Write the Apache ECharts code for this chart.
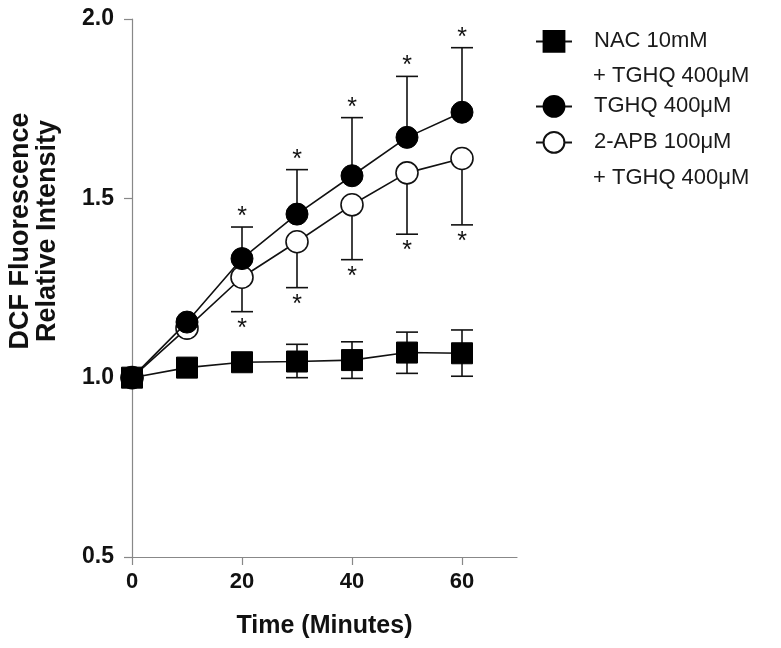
<!DOCTYPE html>
<html>
<head>
<meta charset="utf-8">
<script src="https://cdn.jsdelivr.net/npm/echarts@6/dist/echarts.min.js"></script>
<style>
html,body{margin:0;padding:0;background:#fff;}
#chart{width:781px;height:648px;}
</style>
</head>
<body>
<div id="chart"></div>
<script>
// ---- data ----
var times = [0, 10, 20, 30, 40, 50, 60];
var xTicks = [0, 20, 40, 60];
var yTicks = [0.5, 1.0, 1.5, 2.0];

var nacName = 'NAC 10mM + TGHQ 400μM';
var tghqName = 'TGHQ 400μM';
var apbName = '2-APB 100μM + TGHQ 400μM';

var nacMean = [1.0, 1.028, 1.043, 1.045, 1.049, 1.070, 1.068];
var nacLow  = [null, null, null, 1.000, 0.998, 1.012, 1.004];
var nacHigh = [null, null, null, 1.093, 1.100, 1.127, 1.133];

var tghqMean = [1.0, 1.155, 1.332, 1.456, 1.563, 1.670, 1.740];
var tghqHigh = [null, null, 1.420, 1.580, 1.725, 1.840, 1.920];

var apbMean = [1.0, 1.138, 1.280, 1.379, 1.482, 1.571, 1.611];
var apbLow  = [null, null, 1.184, 1.251, 1.329, 1.400, 1.426];

var FONT = '"Liberation Sans", Arial, Helvetica, sans-serif';

function pairs(xs, ys) {
  return xs.map(function (x, i) { return [x, ys[i]]; });
}
// error bar rows: [x, low, high, capLow, capHigh, starLow, starHigh]
function errRows(xs, mean, low, high, starLow, starHigh) {
  var rows = [];
  xs.forEach(function (x, i) {
    var lo = low ? low[i] : null;
    var hi = high ? high[i] : null;
    if (lo == null && hi == null) return;
    rows.push([x, lo == null ? mean[i] : lo, hi == null ? mean[i] : hi,
      lo == null ? 0 : 1, hi == null ? 0 : 1, starLow ? 1 : 0, starHigh ? 1 : 0]);
  });
  return rows;
}

var errData = []
  .concat(errRows(times, nacMean, nacLow, nacHigh, false, false))
  .concat(errRows(times, tghqMean, null, tghqHigh, false, true))
  .concat(errRows(times, apbMean, apbLow, null, true, false));

function renderErr(params, api) {
  var x = api.value(0);
  var pLo = api.coord([x, api.value(1)]);
  var pHi = api.coord([x, api.value(2)]);
  var half = 11;
  var st = { stroke: '#111', lineWidth: 1.6 };
  var children = [{
    type: 'line', shape: { x1: pLo[0], y1: pLo[1], x2: pHi[0], y2: pHi[1] }, style: st
  }];
  if (api.value(3)) children.push({ type: 'line', shape: { x1: pLo[0] - half, y1: pLo[1], x2: pLo[0] + half, y2: pLo[1] }, style: st });
  if (api.value(4)) children.push({ type: 'line', shape: { x1: pHi[0] - half, y1: pHi[1], x2: pHi[0] + half, y2: pHi[1] }, style: st });
  if (api.value(6)) children.push({ type: 'text', x: pHi[0], y: pHi[1] - 10,
    style: { text: '*', fontSize: 25, fontFamily: FONT, fill: '#111', align: 'center', verticalAlign: 'middle' } });
  if (api.value(5)) children.push({ type: 'text', x: pLo[0], y: pLo[1] + 17,
    style: { text: '*', fontSize: 25, fontFamily: FONT, fill: '#111', align: 'center', verticalAlign: 'middle' } });
  return { type: 'group', children: children };
}

var chart = echarts.init(document.getElementById('chart'), null, { renderer: 'canvas' });

function legendAt(name, top, label) {
  return {
    data: [name], left: 535, top: top, padding: 0, orient: 'vertical',
    itemWidth: 36, itemHeight: 26, selectedMode: false,
    formatter: function () { return label; },
    textStyle: { fontFamily: FONT, fontSize: 22, color: '#1a1a1a', padding: [0, 0, 0, 17] }
  };
}

var option = {
  animation: false,
  backgroundColor: '#fff',
  grid: { left: 132, right: 264, top: 19, bottom: 91 },
  xAxis: {
    type: 'value', min: 0, max: 70,
    name: 'Time (Minutes)', nameLocation: 'middle', nameGap: 57,
    nameTextStyle: { fontFamily: FONT, fontSize: 25, fontWeight: 'bold', color: '#111' },
    axisLine: { show: true, onZero: false, lineStyle: { color: '#888', width: 1.2 } },
    axisTick: { show: true, length: 8, customValues: xTicks, lineStyle: { color: '#888', width: 1.2 } },
    axisLabel: { customValues: xTicks, margin: 14, fontFamily: FONT, fontSize: 22, fontWeight: 'bold', color: '#111' },
    splitLine: { show: false }
  },
  yAxis: {
    type: 'value', min: 0.5, max: 2.0, interval: 0.5,
    axisLine: { show: true, onZero: false, lineStyle: { color: '#888', width: 1.2 } },
    axisTick: { show: true, length: 8, lineStyle: { color: '#888', width: 1.2 } },
    axisLabel: { margin: 18, fontFamily: FONT, fontSize: 23, fontWeight: 'bold', color: '#111',
      formatter: function (v) { return v.toFixed(1); } },
    splitLine: { show: false }
  },
  legend: [
    legendAt(nacName, 30, 'NAC 10mM'),
    legendAt(tghqName, 95, 'TGHQ 400μM'),
    legendAt(apbName, 131, '2-APB 100μM')
  ],
  graphic: [
    { type: 'text', x: 593, y: 76, style: { text: '+ TGHQ 400μM', fontFamily: FONT, fontSize: 22, fill: '#1a1a1a', verticalAlign: 'middle' } },
    { type: 'text', x: 593, y: 178, style: { text: '+ TGHQ 400μM', fontFamily: FONT, fontSize: 22, fill: '#1a1a1a', verticalAlign: 'middle' } },
    { type: 'text', x: 7, y: 231, rotation: Math.PI / 2,
      style: { text: 'DCF Fluorescence\nRelative Intensity', fontFamily: FONT, fontSize: 27, fontWeight: 'bold',
        fill: '#111', align: 'center', verticalAlign: 'top', lineHeight: 27 } }
  ],
  series: [
    {
      type: 'custom', name: 'err', renderItem: renderErr, data: errData, z: 1,
      encode: { x: 0, y: [1, 2] }, silent: true
    },
    {
      type: 'line', name: apbName, data: pairs(times, apbMean), z: 2,
      symbol: 'circle', symbolSize: 22,
      lineStyle: { color: '#111', width: 1.6 },
      itemStyle: { color: '#fff', borderColor: '#111', borderWidth: 1.6 }
    },
    {
      type: 'line', name: tghqName, data: pairs(times, tghqMean), z: 3,
      symbol: 'circle', symbolSize: 22,
      lineStyle: { color: '#111', width: 1.6 },
      itemStyle: { color: '#000', borderColor: '#000', borderWidth: 1 }
    },
    {
      type: 'line', name: nacName, data: pairs(times, nacMean), z: 4,
      symbol: 'rect', symbolSize: 21,
      lineStyle: { color: '#111', width: 1.6 },
      itemStyle: { color: '#000', borderColor: '#000', borderWidth: 1 }
    }
  ]
};
chart.setOption(option);
</script>
</body>
</html>
